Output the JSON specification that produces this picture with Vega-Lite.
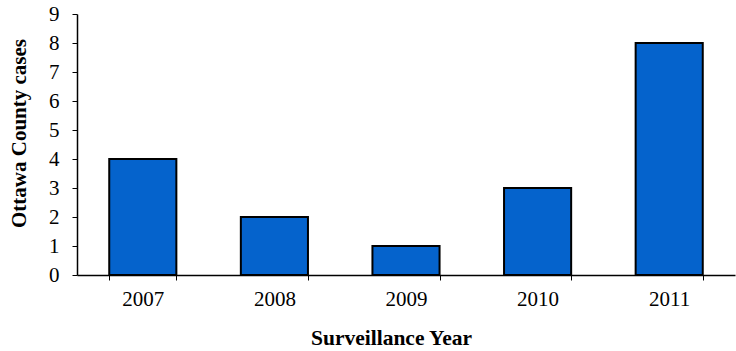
{
  "$schema": "https://vega.github.io/schema/vega-lite/v6.json",
  "width": 658,
  "height": 261,
  "autosize": "none",
  "padding": {"left": 77, "top": 14, "right": 1, "bottom": 76},
  "background": "white",
  "data": {"values": [
    {"year": "2007", "cases": 4},
    {"year": "2008", "cases": 2},
    {"year": "2009", "cases": 1},
    {"year": "2010", "cases": 3},
    {"year": "2011", "cases": 8}
  ]},
  "config": {
    "view": {"stroke": null},
    "font": "Liberation Serif",
    "axis": {"labelFont": "Liberation Serif", "titleFont": "Liberation Serif"}
  },
  "mark": {"type": "bar", "color": "#0563CC", "stroke": "black", "strokeWidth": 2},
  "encoding": {
    "x": {
      "field": "year", "type": "ordinal",
      "scale": {"paddingInner": 0.49, "paddingOuter": 0.245},
      "axis": {
        "title": "Surveillance Year", "titleFontSize": 21.5, "titleFontWeight": "bold", "titleColor": "black", "titlePadding": 18,
        "titleX": 314, "titleAnchor": null,
        "labelAngle": 0, "labelFontSize": 21, "labelColor": "black", "labelPadding": 8,
        "tickBand": "extent", "tickSize": 5, "tickColor": "black", "domainColor": "black", "domainWidth": 1.5, "tickWidth": 1, "grid": false
      }
    },
    "y": {
      "field": "cases", "type": "quantitative",
      "scale": {"domain": [0, 9]},
      "axis": {
        "title": "Ottawa County cases", "titleFontSize": 21, "titleFontWeight": "bold", "titleColor": "black", "titlePadding": 19,
        "titleY": 119,
        "values": [0,1,2,3,4,5,6,7,8,9], "labelFontSize": 21, "labelColor": "black", "labelPadding": 13,
        "tickSize": 5, "tickColor": "black", "domainColor": "black", "domainWidth": 1.5, "grid": false
      }
    }
  }
}
